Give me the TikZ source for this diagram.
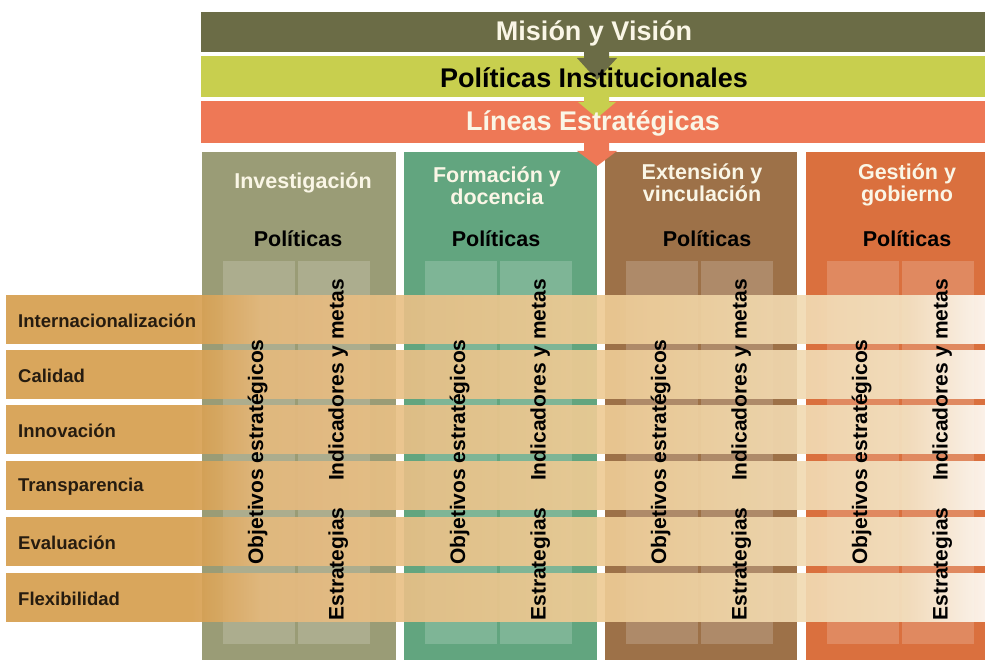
\documentclass[tikz,border=0pt]{standalone}
\usepackage{fontspec}
\setmainfont{Liberation Sans}
\definecolor{misionC}{RGB}{107,108,70}
\definecolor{politC}{RGB}{200,207,78}
\definecolor{lineasC}{RGB}{238,120,86}
\definecolor{invC}{RGB}{154,156,118}
\definecolor{forC}{RGB}{98,165,127}
\definecolor{extC}{RGB}{157,113,72}
\definecolor{gesC}{RGB}{218,112,62}
\definecolor{creamC}{RGB}{250,246,230}
\definecolor{labelC}{RGB}{38,28,16}
\definecolor{rowA}{RGB}{214,158,78}
\definecolor{rowE}{RGB}{228,184,124}
\definecolor{rowB}{RGB}{238,204,150}
\definecolor{rowD}{RGB}{243,226,194}
\definecolor{rowC}{RGB}{254,252,248}
\pgfdeclarehorizontalshading{rowshade}{100bp}{color(0bp)=(rowA); color(34.5bp)=(rowA); color(38bp)=(rowE); color(56bp)=(rowB); color(71bp)=(rowD); color(75bp)=(rowC); color(100bp)=(rowC)}
\begin{document}
\begin{tikzpicture}[x=1pt,y=-1pt,
  band/.style={inner sep=0pt, minimum width=784pt, anchor=north west},
  bandtext/.style={inner sep=0pt, font=\fontsize{27}{30}\selectfont\bfseries},
  colbox/.style={inner sep=0pt, minimum height=508pt, anchor=north west},
  subcol/.style={fill=white, fill opacity=0.18, inner sep=0pt, minimum width=72pt, minimum height=383pt, anchor=north west},
  rowbox/.style={shading=rowshade, opacity=0.92, inner sep=0pt, minimum width=979pt, minimum height=48pt, anchor=north west},
  rowlabel/.style={anchor=west, inner sep=0pt, text=labelC, font=\fontsize{18.5}{20}\selectfont\bfseries},
  head/.style={align=center, inner sep=0pt, text=creamC, font=\fontsize{21.5}{22}\selectfont\bfseries},
  pol/.style={inner sep=0pt, text=black, font=\fontsize{21.5}{24}\selectfont\bfseries},
  vtext/.style={rotate=90, anchor=base, inner sep=0pt, text=black, font=\fontsize{21}{24}\selectfont\bfseries}
]
\useasboundingbox (0,0) rectangle (985,660);
% bands
\node[band, fill=misionC, minimum height=40pt] (mision) at (201,12) {};
\node[band, fill=politC, minimum height=41pt] (polit) at (201,56) {};
\fill[misionC] (584,50) -- (609,50) -- (609,58) -- (617,58) -- (597,80) -- (577,58) -- (584,58) -- cycle;
\node[band, fill=lineasC, minimum height=42pt] (lineas) at (201,101) {};
\fill[politC] (584,95) -- (609,95) -- (609,102) -- (616,102) -- (597,118) -- (578,102) -- (584,102) -- cycle;
% columns
\node[colbox, fill=invC, minimum width=194pt] (cinv) at (202,152) {};
\node[colbox, fill=forC, minimum width=193pt] (cfor) at (404,152) {};
\node[colbox, fill=extC, minimum width=192pt] (cext) at (605,152) {};
\node[colbox, fill=gesC, minimum width=179pt] (cges) at (806,152) {};
\foreach \L/\n in {202/inv,404/for,605/ext,806/ges}{
  \node[subcol] (sa\n) at (\L+21,261) {};
  \node[subcol] (sb\n) at (\L+96,261) {};
}
\fill[lineasC] (584,141) -- (609,141) -- (609,151) -- (617,151) -- (597,166) -- (577,151) -- (584,151) -- cycle;
% band texts
\node[bandtext, text=creamC] (tmision) at (594,33) {Misión y Visión};
\node[bandtext, text=black] (tpolit) at (594,78) {Políticas Institucionales};
\node[bandtext, text=creamC] (tlineas) at (593,123) {Líneas Estratégicas};
% rows
\node[rowbox] (r1) at (6,295) {};
\node[rowbox] (r2) at (6,350) {};
\node[rowbox] (r3) at (6,405) {};
\node[rowbox] (r4) at (6,461) {};
\node[rowbox] (r5) at (6,517) {};
\node[rowbox] (r6) at (6,573) {};
\node[rowlabel] (l1) at (18,321) {Internacionalización};
\node[rowlabel] (l2) at (18,376) {Calidad};
\node[rowlabel] (l3) at (18,431) {Innovación};
\node[rowlabel] (l4) at (18,487) {Transparencia};
\node[rowlabel] (l5) at (18,543) {Evaluación};
\node[rowlabel] (l6) at (18,599) {Flexibilidad};
% column headers
\node[head] (hinv) at (303,183) {Investigación};
\node[head] (hfor) at (497,186) {Formación y\\docencia};
\node[head] (hext) at (702,183) {Extensión y\\vinculación};
\node[head] (hges) at (907,185) {Gestión y\\gobierno};
\node[pol] (pinv) at (298,239) {Políticas};
\node[pol] (pfor) at (496,239) {Políticas};
\node[pol] (pext) at (707,239) {Políticas};
\node[pol] (pges) at (907,239) {Políticas};
% vertical texts
\foreach \L/\n in {202/inv,404/for,605/ext,806/ges}{
  \node[vtext] (ob\n) at (\L+61,452) {Objetivos estratégicos};
  \node[vtext] (in\n) at (\L+141.5,380) {Indicadores y metas};
  \node[vtext] (es\n) at (\L+141.5,564) {Estrategias};
}
\end{tikzpicture}
\end{document}
